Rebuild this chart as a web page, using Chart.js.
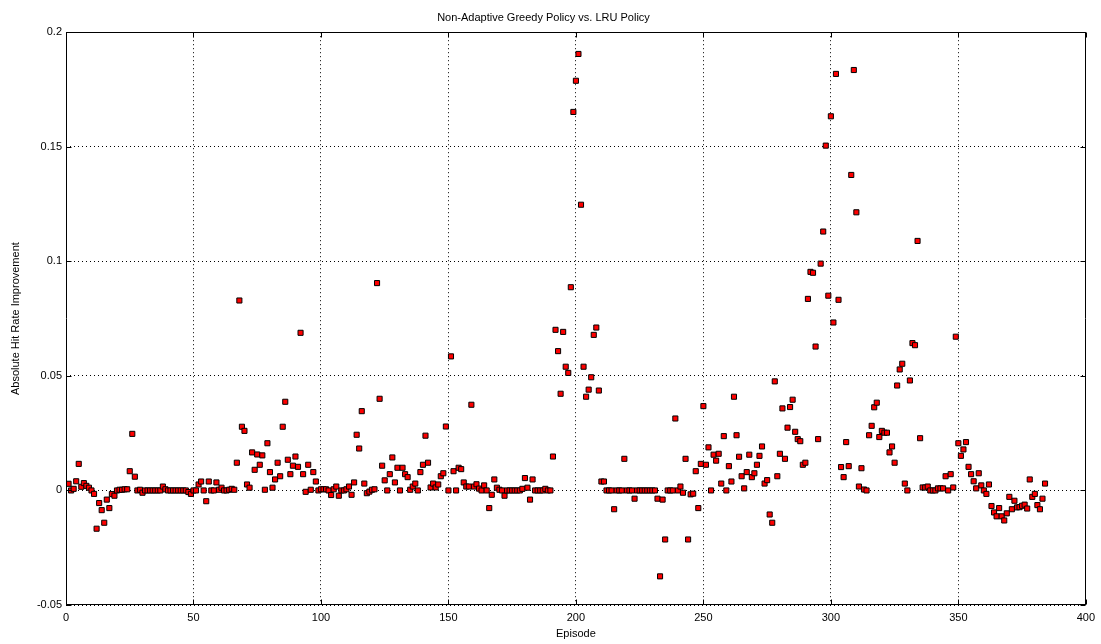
<!DOCTYPE html>
<html>
<head>
<meta charset="utf-8">
<title>Non-Adaptive Greedy Policy vs. LRU Policy</title>
<script src="https://cdn.jsdelivr.net/npm/chart.js@4.4.1/dist/chart.umd.min.js"></script>
<style>
  html, body { margin: 0; padding: 0; background: #fff; }
  #wrap { width: 1101px; height: 644px; position: relative; }
</style>
</head>
<body>
<div id="wrap"><canvas id="hit-chart"></canvas></div>
<script>
// Hit rate gain of the greedy policy over LRU, one value per episode (1..384)
const hitRateGain = [
  0.0029, 0, 0.0007, 0.004, 0.0116, 0.0016, 0.0032, 0.002, 0.0012, 0,
  -0.0015, -0.0167, -0.0055, -0.0086, -0.0141, -0.004, -0.0077, -0.0016, -0.0023, 0,
  0.0003, 0.0003, 0.0005, 0.0005, 0.0084, 0.0247, 0.006, 0, 0.0003, -0.001,
  0, 0, 0, 0, 0, 0, 0, 0.0017, 0.0005, 0,
  0, 0, 0, 0, 0, 0, 0, -0.0007, -0.0015, 0,
  0, 0.0026, 0.0039, 0, -0.0047, 0.0039, 0, 0, 0.0035, 0.0003,
  0.0012, 0, 0, 0.0003, 0.0007, 0.0003, 0.0121, 0.0829, 0.0278, 0.026,
  0.0026, 0.0012, 0.0166, 0.009, 0.0157, 0.0112, 0.0153, 0.0003, 0.0206, 0.008,
  0.0012, 0.0048, 0.0121, 0.0062, 0.0278, 0.0387, 0.0134, 0.0071, 0.0108, 0.0148,
  0.0103, 0.0688, 0.0071, -0.0006, 0.0112, 0.0003, 0.008, 0.0039, 0, 0.0005,
  0.0005, 0.0005, 0, -0.002, 0.0005, 0.0017, -0.0023, 0, 0, 0.0005,
  0.0017, -0.0019, 0.0035, 0.0243, 0.0183, 0.0346, 0.003, -0.0012, -0.0005, 0.0003,
  0.0005, 0.0905, 0.04, 0.0108, 0.0044, 0, 0.0071, 0.0144, 0.0035, 0.0099,
  0, 0.0099, 0.0071, 0.0058, 0.0003, 0.0017, 0.003, 0, 0.008, 0.0112,
  0.0239, 0.0121, 0.0013, 0.003, 0.0013, 0.0026, 0.0062, 0.0075, 0.0279, 0,
  0.0585, 0.0084, 0, 0.0099, 0.0093, 0.0035, 0.0017, 0.0017, 0.0374, 0.0017,
  0.0027, 0.0008, 0, 0.0022, 0, -0.0077, -0.0019, 0.0048, 0.0012, 0.0003,
  0, -0.0023, 0, 0, 0, 0, 0, 0, 0.0007, 0.0054,
  0.0012, -0.004, 0.0048, 0, 0, 0, 0, 0.0007, 0, 0,
  0.0148, 0.0701, 0.0608, 0.0422, 0.0692, 0.054, 0.0513, 0.0887, 0.1652, 0.1788,
  0.1905, 0.1247, 0.054, 0.0409, 0.044, 0.0494, 0.0679, 0.0711, 0.0436, 0.0039,
  0.0039, 0, 0, 0, -0.0082, 0, 0, 0, 0.0138, 0,
  0, 0, -0.0036, 0, 0, 0, 0, 0, 0, 0,
  0, -0.0036, -0.0375, -0.004, -0.0214, 0, 0, 0, 0.0314, 0,
  0.0017, -0.001, 0.0138, -0.0214, -0.0017, -0.0014, 0.0084, -0.0077, 0.0116, 0.0368,
  0.0112, 0.0188, 0, 0.0156, 0.013, 0.016, 0.003, 0.0237, 0, 0.0106,
  0.0039, 0.0409, 0.0241, 0.0147, 0.0062, 0.0009, 0.008, 0.0156, 0.0058, 0.0075,
  0.0112, 0.0151, 0.0192, 0.003, 0.0045, -0.0105, -0.0141, 0.0476, 0.0062, 0.016,
  0.0358, 0.0138, 0.0274, 0.0364, 0.0396, 0.0256, 0.0224, 0.0215, 0.0112, 0.0121,
  0.0836, 0.0954, 0.095, 0.0628, 0.0224, 0.099, 0.113, 0.1505, 0.085, 0.1633,
  0.0733, 0.1818, 0.0832, 0.0102, 0.0058, 0.0211, 0.0106, 0.1377, 0.1835, 0.1214,
  0.0017, 0.0097, 0.0004, 0, 0.0241, 0.0282, 0.0363, 0.0383, 0.0233, 0.026,
  0.0252, 0.0252, 0.0166, 0.0192, 0.0121, 0.0458, 0.0528, 0.0553, 0.003, 0,
  0.048, 0.0643, 0.0634, 0.1089, 0.0228, 0.0013, 0.0013, 0.0017, 0, 0,
  0, 0.0009, 0.0009, 0.0009, 0.0062, 0, 0.0071, 0.0013, 0.0671, 0.0206,
  0.0151, 0.0179, 0.0211, 0.0103, 0.0071, 0.004, 0.0009, 0.0075, 0.0022, 0,
  -0.0015, 0.0026, -0.0068, -0.0096, -0.0113, -0.0077, -0.0113, -0.0131, -0.01, -0.0028,
  -0.0082, -0.0045, -0.0074, -0.0073, -0.0067, -0.0062, -0.0079, 0.0048, -0.0028, -0.0015,
  -0.0064, -0.0082, -0.0036, 0.003
];

const xTicks = [0, 50, 100, 150, 200, 250, 300, 350, 400];
const yTicks = [-0.05, 0, 0.05, 0.1, 0.15, 0.2];
const yTickLabels = ['-0.05', '0', '0.05', '0.1', '0.15', '0.2'];

const FONT = 'Arial, "Liberation Sans", sans-serif';

// axis box plus short inward tick marks on all four sides
const boxPlugin = {
  id: 'box',
  afterDatasetsDraw(chart) {
    const {ctx, chartArea: a, scales} = chart;
    const L = Math.round(a.left) + 0.5, R = Math.round(a.right) - 0.5;
    const T = Math.round(a.top) + 0.5, B = Math.round(a.bottom) - 0.5;
    ctx.save();
    ctx.strokeStyle = '#000';
    ctx.lineWidth = 1;
    ctx.beginPath();
    ctx.rect(L, T, R - L, B - T);
    const len = 5;
    xTicks.forEach(v => {
      const x = Math.round(scales.x.getPixelForValue(v)) + 0.5;
      ctx.moveTo(x, B); ctx.lineTo(x, B - len);
      ctx.moveTo(x, T); ctx.lineTo(x, T + len);
    });
    yTicks.forEach(v => {
      const y = Math.round(scales.y.getPixelForValue(v)) + 0.5;
      ctx.moveTo(L, y); ctx.lineTo(L + len, y);
      ctx.moveTo(R, y); ctx.lineTo(R - len, y);
    });
    ctx.stroke();
    ctx.restore();
  }
};

new Chart(document.getElementById('hit-chart').getContext('2d'), {
  type: 'scatter',
  data: {
    datasets: [{
      label: 'Absolute Hit Rate Improvement',
      data: hitRateGain.map((v, i) => ({x: i + 1, y: v})),
      pointStyle: 'rect',
      pointRadius: 3.6,
      pointHoverRadius: 3.6,
      backgroundColor: '#ff0000',
      borderColor: '#000',
      borderWidth: 1
    }]
  },
  options: {
    responsive: true, maintainAspectRatio: false,
    animation: false,
    layout: {padding: {top: 0, right: 14, bottom: 0, left: 0}},
    scales: {
      x: {
        type: 'linear', min: 0, max: 400,
        afterBuildTicks: s => { s.ticks = xTicks.map(v => ({value: v})); },
        afterFit: s => { s.height = 39; },
        grid: {color: '#000', lineWidth: 1, drawTicks: false},
        border: {display: false, dash: [1, 3]},
        ticks: {color: '#000', font: {family: FONT, size: 11}, padding: 6, maxRotation: 0},
        title: {display: true, text: 'Episode', color: '#000', font: {family: FONT, size: 11}, padding: {top: 0, bottom: 3}}
      },
      y: {
        type: 'linear', min: -0.05, max: 0.2,
        afterBuildTicks: s => { s.ticks = yTicks.map(v => ({value: v})); },
        afterFit: s => { s.width = 66; },
        grid: {color: '#000', lineWidth: 1, drawTicks: false},
        border: {display: false, dash: [1, 3]},
        ticks: {
          color: '#000', font: {family: FONT, size: 11}, padding: 4,
          callback: v => yTickLabels[yTicks.findIndex(t => Math.abs(t - v) < 1e-9)]
        },
        title: {display: true, text: 'Absolute Hit Rate Improvement', color: '#000', font: {family: FONT, size: 11}, padding: {top: 9, bottom: 0}}
      }
    },
    plugins: {
      legend: {display: false},
      tooltip: {enabled: false},
      title: {
        display: true, text: 'Non-Adaptive Greedy Policy vs. LRU Policy',
        color: '#000', font: {family: FONT, size: 11, weight: 'normal'},
        padding: {top: 11, bottom: 8}
      }
    }
  },
  plugins: [boxPlugin]
});
</script>
</body>
</html>
